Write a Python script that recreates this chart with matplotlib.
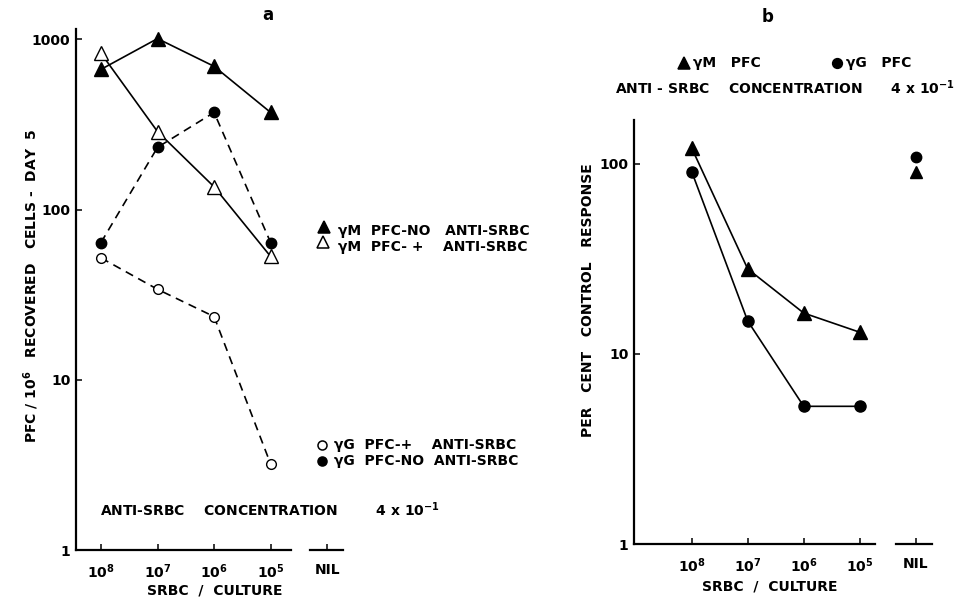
import matplotlib

matplotlib.use("Agg")
import matplotlib.pyplot as plt
from matplotlib.lines import Line2D
from matplotlib.ticker import FixedLocator, NullLocator

# doses, in the order they sit on the axis
dose_labels = [r"$\mathbf{10^{8}}$", r"$\mathbf{10^{7}}$", r"$\mathbf{10^{6}}$", r"$\mathbf{10^{5}}$"]
nil_label = "NIL"

# panel a: PFC / 10^6 recovered cells, day 5
gm_no_anti = [666, 1010, 694, 372]
gm_plus_anti = [828, 287, 136, 53]
gg_no_anti = [64, 232, 372, 64]
gg_plus_anti = [52, 34, 23.5, 3.2]

# panel b: per cent of control response
pct_gm = [121, 28, 16.4, 13]
pct_gg = [91, 14.9, 5.3, 5.3]
nil_gm = 91
nil_gg = 109

W, H = 959, 601
plt.rcParams["font.family"] = ["DejaVu Sans"]
plt.rcParams["font.weight"] = "bold"
plt.rcParams["font.size"] = 9.5
plt.rcParams["mathtext.fontset"] = "dejavusans"

fig = plt.figure(figsize=(W / 100, H / 100), dpi=100)


def fx(x):
    return x / W


def fy(y):
    return 1 - y / H


def txt(x, y, s, **kw):
    kw.setdefault("va", "center")
    fig.text(fx(x), fy(y), s, **kw)


def key(x, y, marker, filled, size):
    fig.add_artist(Line2D([fx(x)], [fy(y)], marker=marker, markersize=size,
                          markerfacecolor="black" if filled else "white",
                          markeredgecolor="black", markeredgewidth=1.1,
                          linestyle="none", transform=fig.transFigure))


def style_axes(ax, main_end, nil_start, nil_end, yticks):
    ax.set_yscale("log")
    for side in ("top", "right", "bottom"):
        ax.spines[side].set_visible(False)
    ax.spines["left"].set_linewidth(1.6)
    lo = ax.get_xlim()[0]
    ax.plot([lo, main_end], [1, 1], color="black", lw=1.6, clip_on=False)
    ax.plot([nil_start, nil_end], [1, 1], color="black", lw=1.6, clip_on=False)
    ax.xaxis.set_major_locator(FixedLocator(range(5)))
    ax.set_xticklabels(dose_labels + [nil_label], fontsize=10)
    ax.yaxis.set_major_locator(FixedLocator(yticks))
    ax.yaxis.set_minor_locator(NullLocator())
    ax.set_yticklabels([str(t) for t in yticks], fontsize=10)
    ax.tick_params(axis="both", direction="in", length=4, width=1.1)
    ax.tick_params(axis="x", pad=9)
    ax.tick_params(axis="y", pad=4)


xs = range(len(dose_labels))

# ---- panel a ----
ax_a = fig.add_axes([fx(76), fy(550), (343 - 76) / W, (550 - 29) / H])
ax_a.set_xlim(-0.442, 4.28)
ax_a.set_ylim(1, 1150)
mk = dict(color="black", lw=1.2, clip_on=False)
ax_a.plot(xs, gm_no_anti, "-", marker="^", markersize=10, mfc="black", **mk)
ax_a.plot(xs, gm_plus_anti, "-", marker="^", markersize=10, mfc="white", **mk)
ax_a.plot(xs, gg_no_anti, "--", marker="o", markersize=7.5, mfc="black", dashes=(5, 3.5), **mk)
ax_a.plot(xs, gg_plus_anti, "--", marker="o", markersize=7, mfc="white", dashes=(5, 3.5), **mk)
style_axes(ax_a, 3.36, 3.7, 4.28, [1, 10, 100, 1000])

txt(268, 15, "a", ha="center", fontsize=12)
txt(31, 286, "PFC / 10$\\mathbf{^6}$   RECOVERED   CELLS -  DAY  5", rotation=90, ha="center", fontsize=10)
txt(215, 591, "SRBC  /  CULTURE", ha="center", fontsize=10)
txt(100, 510, "ANTI-SRBC    CONCENTRATION        4 x 10$\\mathbf{^{-1}}$", ha="left", fontsize=10)

key(324, 227, "^", True, 9)
key(323, 242, "^", False, 9)
txt(338, 231, "γM  PFC-NO   ANTI-SRBC", ha="left", fontsize=10)
txt(338, 247, "γM  PFC- +    ANTI-SRBC", ha="left", fontsize=10)
key(322, 445, "o", False, 6.5)
key(322, 461, "o", True, 6.5)
txt(334, 445, "γG  PFC-+    ANTI-SRBC", ha="left", fontsize=10)
txt(334, 461, "γG  PFC-NO  ANTI-SRBC", ha="left", fontsize=10)

# ---- panel b ----
ax_b = fig.add_axes([fx(634), fy(544), (932 - 634) / W, (544 - 120) / H])
ax_b.set_xlim(-1.03, 4.29)
ax_b.set_ylim(1, 170)
ax_b.plot(xs, pct_gm, "-", marker="^", markersize=10, mfc="black", **mk)
ax_b.plot(xs, pct_gg, "-", marker="o", markersize=8, mfc="black", **mk)
ax_b.plot([4], [nil_gm], "^", markersize=9, color="black", clip_on=False)
ax_b.plot([4], [nil_gg], "o", markersize=7.5, color="black", clip_on=False)
style_axes(ax_b, 3.27, 3.64, 4.29, [1, 10, 100])

txt(768, 17, "b", ha="center", fontsize=12)
txt(588, 300, "PER   CENT   CONTROL   RESPONSE", rotation=90, ha="center", fontsize=10)
txt(770, 587, "SRBC  /  CULTURE", ha="center", fontsize=10)
txt(615, 88, "ANTI - SRBC    CONCENTRATION      4 x 10$\\mathbf{^{-1}}$", ha="left", fontsize=10)
key(684, 63, "^", True, 9)
txt(693, 63, "γM   PFC", ha="left", fontsize=10)
key(837, 63, "o", True, 7)
txt(846, 63, "γG   PFC", ha="left", fontsize=10)

fig.savefig("out.png", dpi=100)
